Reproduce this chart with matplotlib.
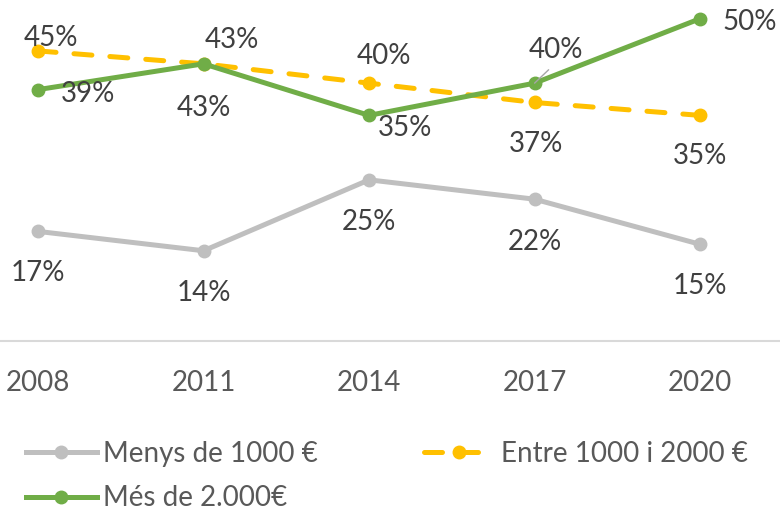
import matplotlib
matplotlib.use('Agg')
import matplotlib.pyplot as plt
from matplotlib.lines import Line2D

# data
years = ['2008', '2011', '2014', '2017', '2020']
menys = [17, 14, 25, 22, 15]
entre = [45, 43, 40, 37, 35]
mes = [39, 43, 35, 40, 50]
names = ['Menys de 1000 €', 'Entre 1000 i 2000 €', 'Més de 2.000€']

# label offsets in pixels (dx right, dy down) from each marker
off_menys = [(0, 40), (0, 40), (0, 40), (0, 41), (0, 40)]
off_entre = [(13, -15), (28, -26), (15, -29), (1, 40), (0, 39)]
off_mes = [(50, 2), (0, 42), (36, 11), (21, -35), (50, 1)]

c_grey = '#BFBFBF'
c_yel = '#FFC000'
c_grn = '#70AD47'

plt.rcParams['font.family'] = ['Lato', 'DejaVu Sans']

fig = plt.figure(figsize=(7.8, 5.11), dpi=100)
ax = fig.add_axes([0, 170 / 511, 1, 341 / 511])
x = list(range(len(years)))

lw = 3.6
ms = 9
ax.plot(x, menys, color=c_grey, lw=lw, marker='o', ms=ms, solid_capstyle='round', clip_on=False, zorder=3)
ax.plot(x, entre, color=c_yel, lw=lw, ls=(0, (3.6, 3.6)), dash_capstyle='round', marker='o', ms=ms,
        clip_on=False, zorder=4)
ax.plot(x, mes, color=c_grn, lw=lw, marker='o', ms=ms, solid_capstyle='round', clip_on=False, zorder=5)

ax.set_xlim(-0.23, 4.483)
ax.set_ylim(0, 52.9)
for s in ['top', 'left', 'right']:
    ax.spines[s].set_visible(False)
ax.spines['bottom'].set_color('#D9D9D9')
ax.spines['bottom'].set_linewidth(1.5)
ax.set_yticks([])
ax.set_xticks(x, years)
ax.tick_params(axis='x', length=0, pad=21, labelsize=20, labelcolor='#595959')

def labels(vals, offs):
    for i, v in enumerate(vals):
        dx, dy = offs[i]
        ax.annotate(f'{v}%', (i, v), xytext=(dx * 0.72, -(dy + 10) * 0.72), textcoords='offset points',
                    ha='center', va='baseline', fontsize=20, color='#404040', zorder=6)

labels(menys, off_menys)
labels(entre, off_entre)
for i, v in enumerate(mes):
    dx, dy = off_mes[i]
    kw = {}
    if i == 3:
        kw['arrowprops'] = dict(arrowstyle='-', color='#A6A6A6', lw=1, relpos=(0.5, 0), shrinkA=4, shrinkB=0)
    ax.annotate(f'{v}%', (i, v), xytext=(dx * 0.72, -(dy + 10) * 0.72), textcoords='offset points',
                ha='center', va='baseline', fontsize=20, color='#404040', zorder=6, **kw)

h_menys = Line2D([], [], color=c_grey, lw=lw, marker='o', ms=ms)
h_entre = Line2D([], [], color=c_yel, lw=lw, ls=(0, (3.6, 3.6)), dash_capstyle='round', marker='o', ms=ms)
h_mes = Line2D([], [], color=c_grn, lw=lw, marker='o', ms=ms)

leg_kw = dict(loc='upper left', frameon=False, fontsize=20, handlelength=2.55, handletextpad=0.22,
              borderpad=0, borderaxespad=0, labelcolor='#595959', labelspacing=0.66)
fig.legend([h_menys, h_mes], [names[0], names[2]], bbox_to_anchor=(26 / 780, 1 - 441 / 511), **leg_kw)
fig.legend([h_entre], [names[1]], bbox_to_anchor=(424 / 780, 1 - 441 / 511), **leg_kw)

fig.savefig('out.png', dpi=100)
